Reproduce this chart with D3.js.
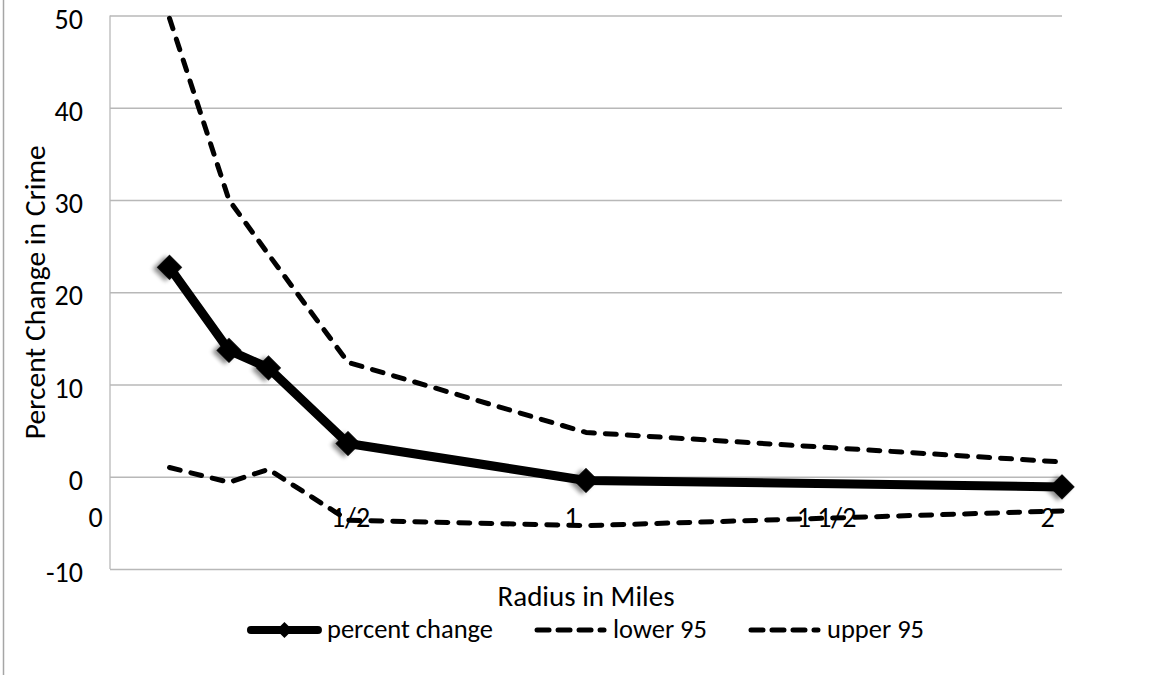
<!DOCTYPE html>
<html>
<head>
<meta charset="utf-8">
<script src="https://cdn.jsdelivr.net/npm/d3@7"></script>
<style>
  html, body { margin: 0; padding: 0; background: #fff; }
  svg { display: block; font-family: Carlito, Lato, sans-serif; }
</style>
</head>
<body>
<svg id="chart" width="1151" height="675"></svg>
<script>
// Radius (miles) at which the change in crime was measured
const radius = [0.125, 0.25, 0.333, 0.5, 1, 2];
// Estimated percent change and its 95% bounds
const percentChange = [22.7, 13.7, 11.8, 3.6, -0.4, -1.1];
const lower95 = [1.0, -0.6, 0.8, -4.7, -5.3, -3.7];
const upper95 = [49.7, 30.0, 24.1, 12.4, 4.8, 1.6];
// Axis ticks
const yTicks = [-10, 0, 10, 20, 30, 40, 50];
const xTickValues = [0, 0.5, 1, 1.5, 2];
const xTickLabels = ["0", "1/2", "1", "1 1/2", "2"];
const seriesNames = ["percent change", "lower 95", "upper 95"];

const svg = d3.select("#chart");
const plot = { left: 110, right: 1062, top: 15.5, bottom: 569 };

const x = d3.scaleLinear().domain([0, 2]).range([plot.left, plot.right]);
const y = d3.scaleLinear().domain([-10, 50]).range([plot.bottom, plot.top]);

// drop shadow for markers
const defs = svg.append("defs");
defs.append("filter").attr("id", "markerShadow")
  .attr("x", "-50%").attr("y", "-50%").attr("width", "200%").attr("height", "200%")
  .append("feDropShadow")
  .attr("dx", -2).attr("dy", 4).attr("stdDeviation", 2.2)
  .attr("flood-color", "#000").attr("flood-opacity", 0.45);

// outer chart border (left edge)
svg.append("line")
  .attr("x1", 3.5).attr("x2", 3.5).attr("y1", 0).attr("y2", 675)
  .attr("stroke", "#a6a6a6").attr("stroke-width", 1.5);

// horizontal gridlines
svg.append("g")
  .attr("transform", `translate(${plot.left},0)`)
  .call(d3.axisLeft(y).tickValues(yTicks).tickSize(-(plot.right - plot.left)).tickFormat(""))
  .call(g => g.select(".domain").remove())
  .call(g => g.selectAll(".tick line").attr("stroke", "#b8b8b8").attr("stroke-width", 1.3));

// vertical axis line
svg.append("line")
  .attr("x1", plot.left).attr("x2", plot.left)
  .attr("y1", plot.top).attr("y2", plot.bottom)
  .attr("stroke", "#b8b8b8").attr("stroke-width", 1.3);

// y tick labels
svg.append("g")
  .attr("transform", `translate(${plot.left},0)`)
  .call(d3.axisLeft(y).tickValues(yTicks).tickSize(0).tickPadding(27).tickFormat(d => String(d)))
  .call(g => g.select(".domain").remove())
  .call(g => g.selectAll(".tick text")
    .attr("font-family", "Carlito, Lato, sans-serif")
    .attr("font-size", 28).attr("fill", "#000").attr("dy", "0.45em"));

// x tick labels sit beneath the zero line
svg.append("g")
  .attr("transform", `translate(0,${y(0)})`)
  .call(d3.axisBottom(x).tickValues(xTickValues).tickSize(0).tickPadding(0)
    .tickFormat((d, i) => xTickLabels[i]))
  .call(g => g.select(".domain").remove())
  .call(g => g.selectAll(".tick text")
    .attr("font-family", "Carlito, Lato, sans-serif")
    .attr("font-size", 28).attr("fill", "#000")
    .attr("y", 40).attr("dy", "0.36em")
    .attr("dx", d => Number.isInteger(d) ? -15 : 2));

// axis titles
svg.append("text")
  .attr("x", (plot.left + plot.right) / 2).attr("y", 606)
  .attr("text-anchor", "middle").attr("font-size", 29)
  .text("Radius in Miles");

svg.append("text")
  .attr("transform", `translate(45,${(plot.top + plot.bottom) / 2}) rotate(-90)`)
  .attr("text-anchor", "middle").attr("font-size", 29.5)
  .text("Percent Change in Crime");

// series
const pts = arr => radius.map((r, i) => [r, arr[i]]);
const line = d3.line().x(d => x(d[0])).y(d => y(d[1]));

const dashStyle = sel => sel
  .attr("fill", "none").attr("stroke", "#000").attr("stroke-width", 5)
  .attr("stroke-dasharray", "11 11").attr("stroke-linecap", "round")
  .attr("stroke-linejoin", "round");

svg.append("path").datum(pts(lower95)).attr("d", line).call(dashStyle);
svg.append("path").datum(pts(upper95)).attr("d", line).call(dashStyle);

svg.append("path").datum(pts(percentChange)).attr("d", line)
  .attr("fill", "none").attr("stroke", "#000").attr("stroke-width", 9)
  .attr("stroke-linejoin", "round");

const diamond = d3.symbol(d3.symbolSquare, 320);
svg.append("g").selectAll("path")
  .data(pts(percentChange))
  .join("path")
  .attr("d", diamond)
  .attr("transform", d => `translate(${x(d[0])},${y(d[1])}) rotate(45)`)
  .attr("fill", "#000")
  .attr("filter", "url(#markerShadow)");

// legend
const legend = svg.append("g");
const legendY = 630;
const symW = 73, symGap = 6, itemGap = 41;
const items = legend.selectAll("g").data(seriesNames).join("g");
items.append("text")
  .attr("font-size", 26.5).attr("dy", "0.32em")
  .text(d => d);
const widths = [];
items.select("text").each(function () { widths.push(this.getComputedTextLength()); });
const total = d3.sum(widths) + seriesNames.length * (symW + symGap) + (seriesNames.length - 1) * itemGap;
let cursor = (plot.left + plot.right) / 2 - total / 2;
items.each(function (d, i) {
  const g = d3.select(this).attr("transform", `translate(${cursor},${legendY})`);
  if (i === 0) {
    g.insert("line", "text").attr("x1", 3).attr("x2", symW - 3).attr("y1", 0).attr("y2", 0)
      .attr("stroke", "#000").attr("stroke-width", 8).attr("stroke-linecap", "round");
    g.insert("path", "text").attr("d", d3.symbol(d3.symbolSquare, 130))
      .attr("transform", `translate(${symW / 2},0) rotate(45)`).attr("fill", "#000");
  } else {
    g.insert("line", "text").attr("x1", 3).attr("x2", symW - 3).attr("y1", 0).attr("y2", 0)
      .call(dashStyle).attr("stroke-dasharray", "12 9");
  }
  g.select("text").attr("x", symW + symGap);
  cursor += symW + symGap + widths[i] + itemGap;
});
</script>
</body>
</html>
